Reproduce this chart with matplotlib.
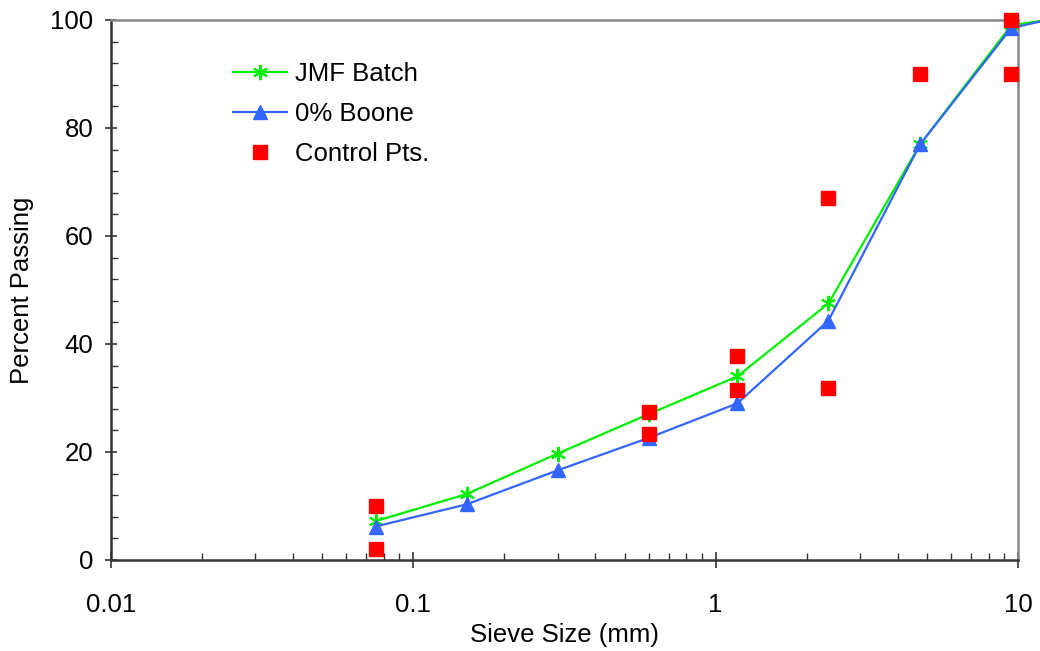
import matplotlib
matplotlib.use("Agg")
import matplotlib.pyplot as plt
from matplotlib.ticker import FixedLocator, MultipleLocator, LogLocator, NullFormatter

plt.rcParams["font.family"] = ["Liberation Sans", "DejaVu Sans"]

# Gradation data (sieve size in mm vs. percent passing)
sieves = [0.075, 0.15, 0.3, 0.6, 1.18, 2.36, 4.75, 9.5, 12.5]
jmf_batch = [7.2, 12.2, 19.7, 27.0, 34.0, 47.5, 77.0, 99.0, 100.0]
boone_0 = [6.2, 10.3, 16.6, 22.6, 29.0, 44.3, 77.0, 98.5, 100.0]

control_sizes = [0.075, 0.075, 0.6, 0.6, 1.18, 1.18, 2.36, 2.36, 4.75, 9.5, 9.5]
control_pct = [2.0, 10.0, 23.3, 27.4, 31.4, 37.7, 31.9, 67.0, 90.0, 90.0, 100.0]

FS = 18.5

fig = plt.figure(figsize=(10.4, 6.51), dpi=100)
ax = fig.add_axes([0.1067, 0.1398, 0.8721, 0.8295])

ax.plot(sieves, jmf_batch, color="#00ee00", lw=1.6, marker=(6, 2, 0), ms=11, mew=1.5,
        label="JMF Batch", clip_on=False, zorder=3)
ax.plot(sieves, boone_0, color="#3366ff", lw=1.6, marker="^", ms=9.5,
        label="0% Boone", clip_on=False, zorder=4)
ax.plot(control_sizes, control_pct, ls="none", marker="s", ms=9.5, color="#ff0000",
        label="Control Pts.", clip_on=False, zorder=5)

ax.set_xscale("log")
ax.set_xlim(0.01, 10)
ax.set_ylim(0, 100)

ax.xaxis.set_major_locator(FixedLocator([0.01, 0.1, 1, 10]))
ax.set_xticklabels(["0.01", "0.1", "1", "10"])
ax.xaxis.set_minor_locator(LogLocator(base=10, subs=range(2, 10)))
ax.xaxis.set_minor_formatter(NullFormatter())
ax.yaxis.set_major_locator(MultipleLocator(20))
ax.yaxis.set_minor_locator(MultipleLocator(4))

ax.tick_params(which="major", direction="inout", length=12, width=1.2,
               labelsize=FS, color="#333333", top=False, right=False)
ax.tick_params(axis="y", which="major", length=9, pad=8)
ax.tick_params(axis="x", which="major", pad=18)
ax.tick_params(which="minor", direction="in", length=5, width=1, color="#333333",
               top=False, right=False)

for side in ("bottom", "left"):
    ax.spines[side].set_color("#333333")
    ax.spines[side].set_linewidth(1.8)
for side in ("top", "right"):
    ax.spines[side].set_color("#888888")
    ax.spines[side].set_linewidth(1.8)

ax.set_xlabel("Sieve Size (mm)", fontsize=FS, labelpad=4)
ax.set_ylabel("Percent Passing", fontsize=FS, labelpad=12)

handles, labels = ax.get_legend_handles_labels()
ax.legend(handles, labels, loc="upper left", bbox_to_anchor=(0.1345, 0.922),
          frameon=False, fontsize=FS, handlelength=2.1, handletextpad=0.3,
          labelspacing=0.62, borderpad=0, borderaxespad=0)

fig.savefig("out.png", dpi=100)
